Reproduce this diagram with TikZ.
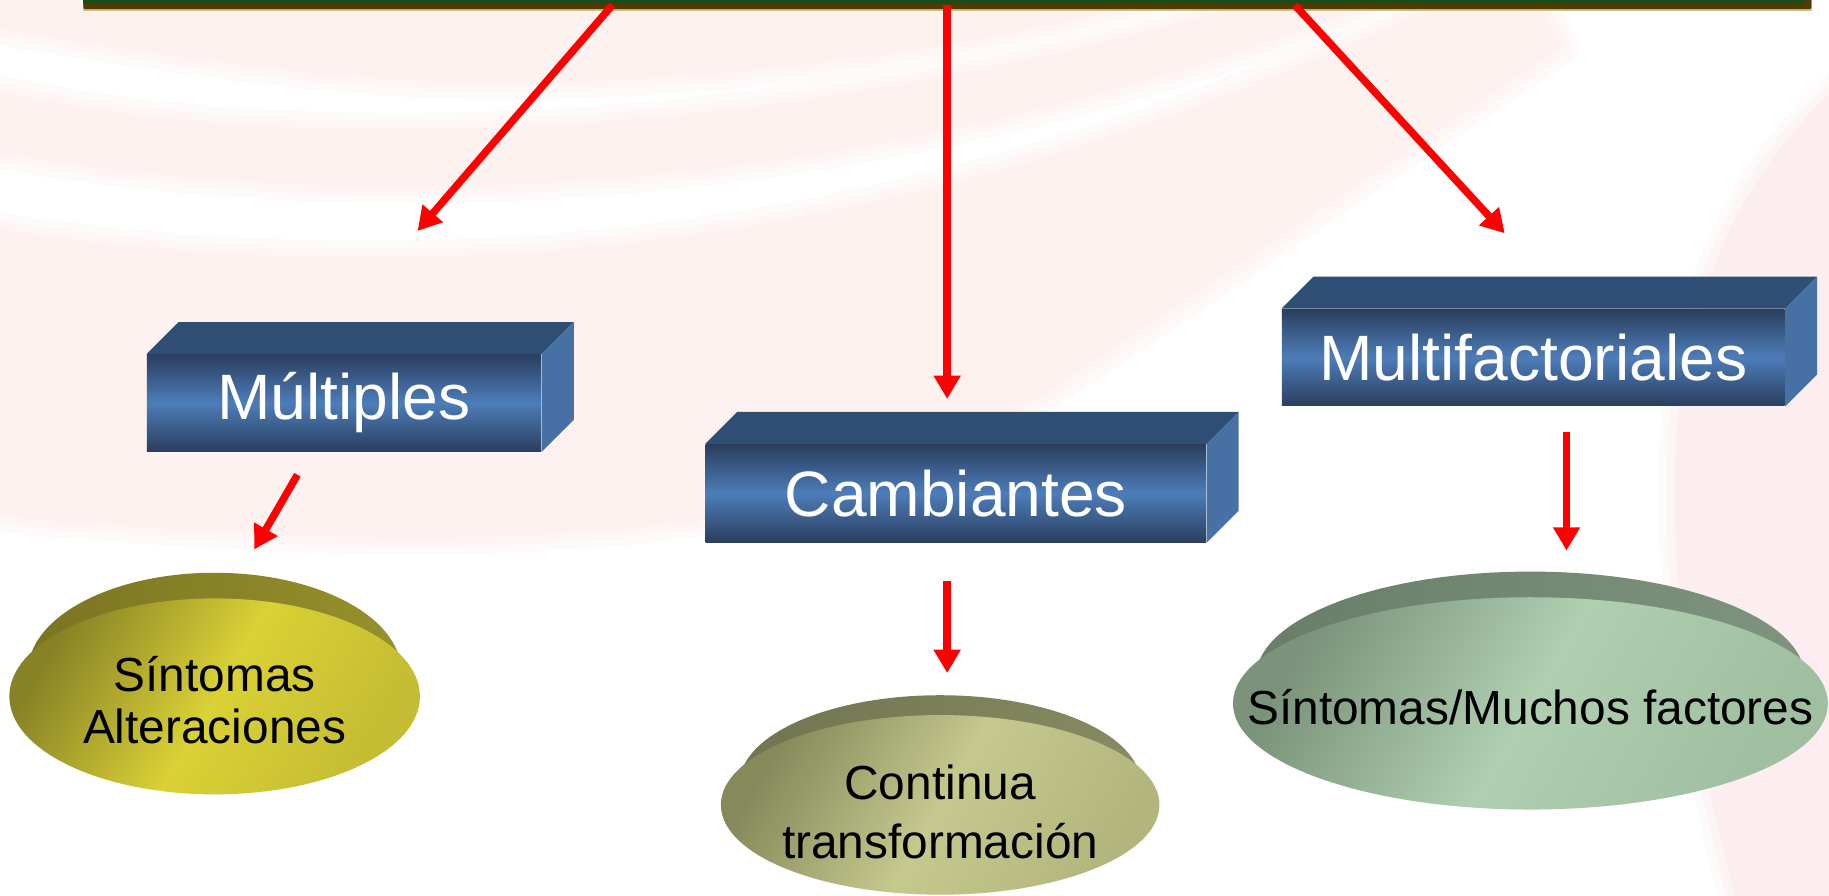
\documentclass[tikz,border=0pt]{standalone}
\usepackage{fontspec}
\setmainfont{Liberation Sans}
\usetikzlibrary{arrows.meta,calc}
\definecolor{bgpink}{RGB}{253,242,240}
\definecolor{bgpinkm}{RGB}{254,246,245}
\definecolor{bgpinkl}{RGB}{254,250,249}
\definecolor{bgpinkR}{RGB}{252,238,240}
\definecolor{bgpinkRm}{RGB}{253,244,245}
\definecolor{bargreen}{RGB}{28,74,26}
\definecolor{barbrown}{RGB}{80,60,0}
\definecolor{bartan}{RGB}{205,190,145}
\definecolor{boxdark}{RGB}{42,62,94}
\definecolor{boxlight}{RGB}{77,125,185}
\definecolor{boxtop}{RGB}{47,78,115}
\definecolor{boxside}{RGB}{71,112,164}
\definecolor{arrowred}{RGB}{255,0,0}
\definecolor{bandA}{RGB}{122,116,34}
\definecolor{bandAl}{RGB}{150,144,44}
\definecolor{faceAd}{RGB}{136,130,38}
\definecolor{faceAl}{RGB}{218,209,54}
\definecolor{faceAe}{RGB}{196,188,50}
\definecolor{bandB}{RGB}{112,116,80}
\definecolor{bandBl}{RGB}{135,139,98}
\definecolor{faceBd}{RGB}{134,137,90}
\definecolor{faceBl}{RGB}{197,201,142}
\definecolor{faceBe}{RGB}{178,182,124}
\definecolor{bandC}{RGB}{104,126,104}
\definecolor{bandCl}{RGB}{126,148,126}
\definecolor{faceCd}{RGB}{122,147,122}
\definecolor{faceCl}{RGB}{176,207,177}
\definecolor{faceCe}{RGB}{160,190,160}
\tikzset{
  conn/.style={draw=arrowred, line width=3.2pt, -{Triangle[length=10pt,width=11pt]}},
  front/.style={top color=boxdark, bottom color=boxdark, middle color=boxlight,
    text=white, font=\fontsize{27.5}{33}\selectfont, inner sep=0pt, anchor=center},
  topface/.style={fill=boxtop},
  sideface/.style={fill=boxside},
  etext/.style={text=black, align=center, inner sep=0pt},
  softbg/.style n args={3}{fill=#1, line join=round,
    preaction={draw=#3, line width=14pt, line join=round},
    preaction={draw=#2, line width=7pt, line join=round}},
}
\begin{document}
\begin{tikzpicture}[x=0.5pt,y=-0.5pt]
\useasboundingbox (0,0) rectangle (1568,768);
\fill[white] (0,0) rectangle (1568,768);
% faint background swooshes
\begin{scope}
\clip (0,0) rectangle (1568,768);
\path[softbg={bgpink}{bgpinkm}{bgpinkl}] (-30,-30) -- (1100,-30) .. controls (850,50) and (520,90) .. (260,62) .. controls (150,50) and (60,35) .. (-30,20) -- cycle;
\path[softbg={bgpink}{bgpinkm}{bgpinkl}] (-30,72) .. controls (220,132) and (650,140) .. (1180,-30) -- (1260,-30) .. controls (720,200) and (250,178) .. (-30,126) -- cycle;
\path[softbg={bgpink}{bgpinkm}{bgpinkl}] (-30,192) .. controls (420,265) and (850,200) .. (1300,-30) -- (1340,40) .. controls (1100,200) and (930,320) .. (820,385) .. controls (620,480) and (300,470) .. (-30,440) -- cycle;
\path[softbg={bgpinkR}{bgpinkRm}{bgpinkl}] (1620,40) .. controls (1500,120) and (1440,250) .. (1436,400) .. controls (1432,560) and (1470,700) .. (1500,820) -- (1620,820) -- cycle;
\end{scope}
% top bar
\fill[bartan] (71,-10) rectangle (1553,9.6);
\node[fill=barbrown, rounded corners=1pt, minimum width=740.75pt, minimum height=12pt,
      inner sep=0pt, anchor=south west] (bar) at (71,8.3) {};
\fill[bargreen] (71,-10) rectangle (1548,3.6);
% boxes
\node[front, minimum width=169pt, minimum height=41.5pt] (mult) at (295,345.5) {Múltiples};
\fill[topface] (mult.north west) -- ++(13.75pt,13.75pt) -- ($(mult.north east)+(13.75pt,13.75pt)$) -- (mult.north east) -- cycle;
\fill[sideface] (mult.north east) -- ++(13.75pt,13.75pt) -- ($(mult.south east)+(13.75pt,13.75pt)$) -- (mult.south east) -- cycle;
\node[front, minimum width=214.5pt, minimum height=42pt] (camb) at (819.5,423) {Cambiantes};
\fill[topface] (camb.north west) -- ++(13.75pt,13.75pt) -- ($(camb.north east)+(13.75pt,13.75pt)$) -- (camb.north east) -- cycle;
\fill[sideface] (camb.north east) -- ++(13.75pt,13.75pt) -- ($(camb.south east)+(13.75pt,13.75pt)$) -- (camb.south east) -- cycle;
\node[front, minimum width=215.5pt, minimum height=41.5pt] (mfac) at (1314.5,306.5) {Multifactoriales};
\fill[topface] (mfac.north west) -- ++(13.75pt,13.75pt) -- ($(mfac.north east)+(13.75pt,13.75pt)$) -- (mfac.north east) -- cycle;
\fill[sideface] (mfac.north east) -- ++(13.75pt,13.75pt) -- ($(mfac.south east)+(13.75pt,13.75pt)$) -- (mfac.south east) -- cycle;
% bevelled ovals
\shade[left color=bandA, right color=bandAl] (184,576) ellipse [x radius=80pt, y radius=42.5pt];
\shade[left color=faceAd, right color=faceAe, middle color=faceAl, shading angle=60] (184,597) ellipse [x radius=88pt, y radius=42pt];
\shade[left color=bandB, right color=bandBl] (806,672) ellipse [x radius=86pt, y radius=38pt];
\shade[left color=faceBd, right color=faceBe, middle color=faceBl, shading angle=60] (806,690) ellipse [x radius=94pt, y radius=38.5pt];
\shade[left color=bandC, right color=bandCl] (1312,580) ellipse [x radius=117.5pt, y radius=45pt];
\shade[left color=faceCd, right color=faceCe, middle color=faceCl, shading angle=60] (1312,603) ellipse [x radius=127.5pt, y radius=45.5pt];
\node[etext, font=\fontsize{20.5}{22.5}\selectfont] (sint) at (184,600) {Síntomas\\Alteraciones};
\node[etext, font=\fontsize{20.5}{25}\selectfont] (cont) at (806,696) {Continua\\transformación};
\node[etext, font=\fontsize{20.5}{24}\selectfont] (much) at (1312,606) {Síntomas/Muchos factores};
% arrow end points
\coordinate (tA) at (358,198);
\coordinate (tB) at (812,342);
\coordinate (tC) at (1290,200);
\coordinate (mOut) at (255,407);
\coordinate (sIn) at (218,471);
\coordinate (cOut) at (812,498);
\coordinate (cIn) at (812,577);
\coordinate (fOut) at (1343,370);
\coordinate (fIn) at (1343,472);
% connectors
\draw[conn] ([xshift=227pt,yshift=2pt]bar.south west) -- (tA);
\draw[conn] ([xshift=370.5pt,yshift=2pt]bar.south west) -- (tB);
\draw[conn] ([xshift=519.5pt,yshift=2pt]bar.south west) -- (tC);
\draw[conn] (mOut) -- (sIn);
\draw[conn] (cOut) -- (cIn);
\draw[conn] (fOut) -- (fIn);
\end{tikzpicture}
\end{document}
